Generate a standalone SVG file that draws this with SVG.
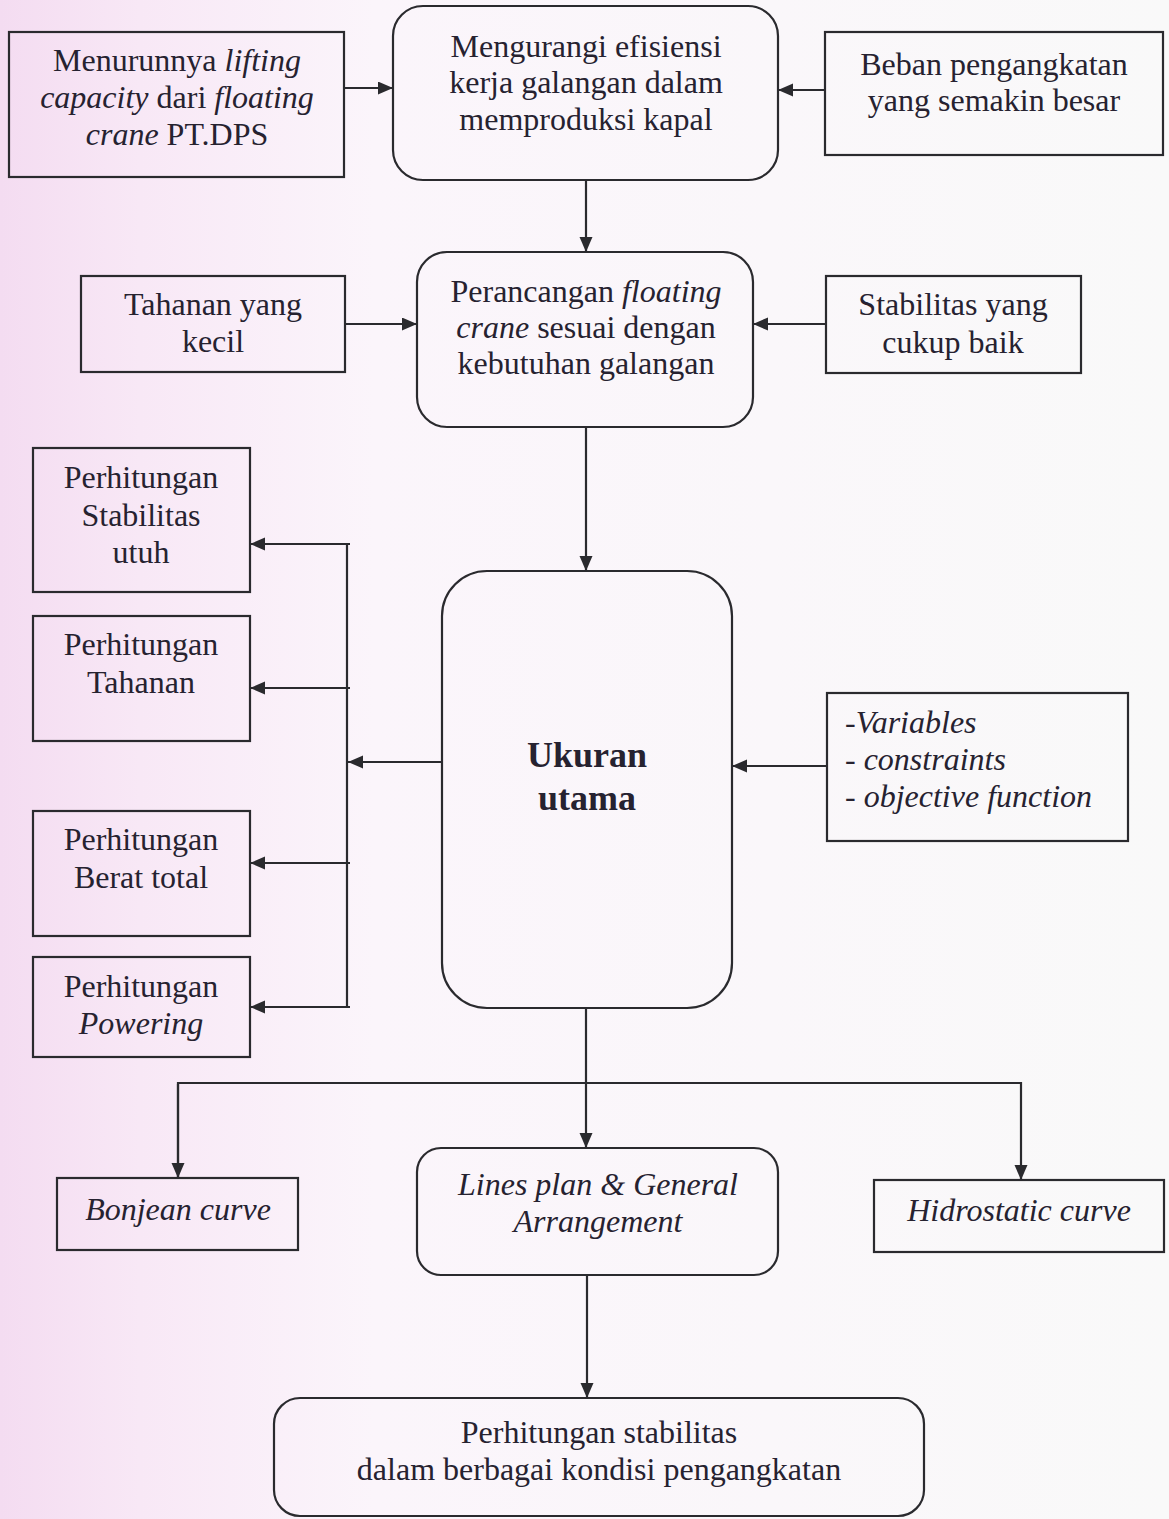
<svg xmlns="http://www.w3.org/2000/svg" width="1169" height="1519" viewBox="0 0 1169 1519">
<defs>
<linearGradient id="bg" x1="0" y1="0" x2="1" y2="0">
<stop offset="0" stop-color="#f4dcf1"/>
<stop offset="0.12" stop-color="#f8e8f6"/>
<stop offset="0.32" stop-color="#fbf5fb"/>
<stop offset="1" stop-color="#f9f9f9"/>
</linearGradient>
<marker id="arr" markerUnits="userSpaceOnUse" markerWidth="16" markerHeight="14" refX="15" refY="6.5" orient="auto">
<path d="M0,0 L15,6.5 L0,13 z" fill="#2a2a2e"/>
</marker>
<style>
.b{fill:none;stroke:#2a2a2e;stroke-width:2.2}
.c{fill:none;stroke:#2a2a2e;stroke-width:2.2}
.t{font-family:"Liberation Serif","Times New Roman",serif;font-size:32px;fill:#262230;text-anchor:middle}
.i{font-style:italic}
.l{text-anchor:start}
.bold{font-weight:bold;font-size:36px}
</style>
</defs>
<rect x="0" y="0" width="1169" height="1519" fill="url(#bg)"/>

<g id="n1">
<rect class="b" x="9" y="32" width="335" height="145"/>
<text class="t" x="177" y="71">Menurunnya <tspan class="i">lifting</tspan></text>
<text class="t" x="177" y="108"><tspan class="i">capacity</tspan> dari <tspan class="i">floating</tspan></text>
<text class="t" x="177" y="145"><tspan class="i">crane</tspan> PT.DPS</text>
</g>
<g id="n2">
<rect class="b" x="393" y="6" width="385" height="174" rx="30"/>
<text class="t" x="586" y="57">Mengurangi efisiensi</text>
<text class="t" x="586" y="93">kerja galangan dalam</text>
<text class="t" x="586" y="130">memproduksi kapal</text>
</g>
<g id="n3">
<rect class="b" x="825" y="32" width="338" height="123"/>
<text class="t" x="994" y="75">Beban pengangkatan</text>
<text class="t" x="994" y="111">yang semakin besar</text>
</g>
<g id="n4">
<rect class="b" x="417" y="252" width="336" height="175" rx="30"/>
<text class="t" x="586" y="302">Perancangan <tspan class="i">floating</tspan></text>
<text class="t" x="586" y="338"><tspan class="i">crane</tspan> sesuai dengan</text>
<text class="t" x="586" y="374">kebutuhan galangan</text>
</g>
<g id="n5">
<rect class="b" x="81" y="276" width="264" height="96"/>
<text class="t" x="213" y="315">Tahanan yang</text>
<text class="t" x="213" y="352">kecil</text>
</g>
<g id="n6">
<rect class="b" x="826" y="276" width="255" height="97"/>
<text class="t" x="953" y="315">Stabilitas yang</text>
<text class="t" x="953" y="353">cukup baik</text>
</g>
<g id="n7">
<rect class="b" x="442" y="571" width="290" height="437" rx="45"/>
<text class="t bold" x="587" y="767">Ukuran</text>
<text class="t bold" x="587" y="810">utama</text>
</g>
<g id="n8">
<rect class="b" x="33" y="448" width="217" height="144"/>
<text class="t" x="141" y="488">Perhitungan</text>
<text class="t" x="141" y="526">Stabilitas</text>
<text class="t" x="141" y="563">utuh</text>
</g>
<g id="n9">
<rect class="b" x="33" y="616" width="217" height="125"/>
<text class="t" x="141" y="655">Perhitungan</text>
<text class="t" x="141" y="693">Tahanan</text>
</g>
<g id="n10">
<rect class="b" x="33" y="811" width="217" height="125"/>
<text class="t" x="141" y="850">Perhitungan</text>
<text class="t" x="141" y="888">Berat total</text>
</g>
<g id="n11">
<rect class="b" x="33" y="957" width="217" height="100"/>
<text class="t" x="141" y="997">Perhitungan</text>
<text class="t i" x="141" y="1034">Powering</text>
</g>
<g id="n12">
<rect class="b" x="827" y="693" width="301" height="148"/>
<text class="t i l" x="845" y="733">-Variables</text>
<text class="t i l" x="845" y="770">- constraints</text>
<text class="t i l" x="845" y="807">- objective function</text>
</g>
<g id="n13">
<rect class="b" x="57" y="1178" width="241" height="72"/>
<text class="t i" x="178" y="1220">Bonjean curve</text>
</g>
<g id="n14">
<rect class="b" x="417" y="1148" width="361" height="127" rx="24"/>
<text class="t i" x="598" y="1195">Lines plan &amp; General</text>
<text class="t i" x="598" y="1232">Arrangement</text>
</g>
<g id="n15">
<rect class="b" x="874" y="1180" width="290" height="72"/>
<text class="t i" x="1019" y="1221">Hidrostatic curve</text>
</g>
<g id="n16">
<rect class="b" x="274" y="1398" width="650" height="118" rx="26"/>
<text class="t" x="599" y="1443">Perhitungan stabilitas</text>
<text class="t" x="599" y="1480">dalam berbagai kondisi pengangkatan</text>
</g>

<g id="connectors">
<line class="c" x1="344" y1="88" x2="393" y2="88" marker-end="url(#arr)"/>
<line class="c" x1="825" y1="90" x2="778" y2="90" marker-end="url(#arr)"/>
<line class="c" x1="586" y1="180" x2="586" y2="252" marker-end="url(#arr)"/>
<line class="c" x1="345" y1="324" x2="417" y2="324" marker-end="url(#arr)"/>
<line class="c" x1="826" y1="324" x2="753" y2="324" marker-end="url(#arr)"/>
<line class="c" x1="586" y1="427" x2="586" y2="571" marker-end="url(#arr)"/>
<line class="c" x1="442" y1="762" x2="348" y2="762" marker-end="url(#arr)"/>
<line class="c" x1="347" y1="543" x2="347" y2="1008"/>
<line class="c" x1="350" y1="544" x2="250" y2="544" marker-end="url(#arr)"/>
<line class="c" x1="350" y1="688" x2="250" y2="688" marker-end="url(#arr)"/>
<line class="c" x1="350" y1="863" x2="250" y2="863" marker-end="url(#arr)"/>
<line class="c" x1="350" y1="1007" x2="250" y2="1007" marker-end="url(#arr)"/>
<line class="c" x1="827" y1="766" x2="732" y2="766" marker-end="url(#arr)"/>
<line class="c" x1="586" y1="1008" x2="586" y2="1148" marker-end="url(#arr)"/>
<polyline class="c" points="178,1178 178,1083 1021,1083 1021,1180" marker-end="url(#arr)"/>
<line class="c" x1="178" y1="1084" x2="178" y2="1178" marker-end="url(#arr)"/>
<line class="c" x1="587" y1="1275" x2="587" y2="1398" marker-end="url(#arr)"/>
</g>
</svg>
